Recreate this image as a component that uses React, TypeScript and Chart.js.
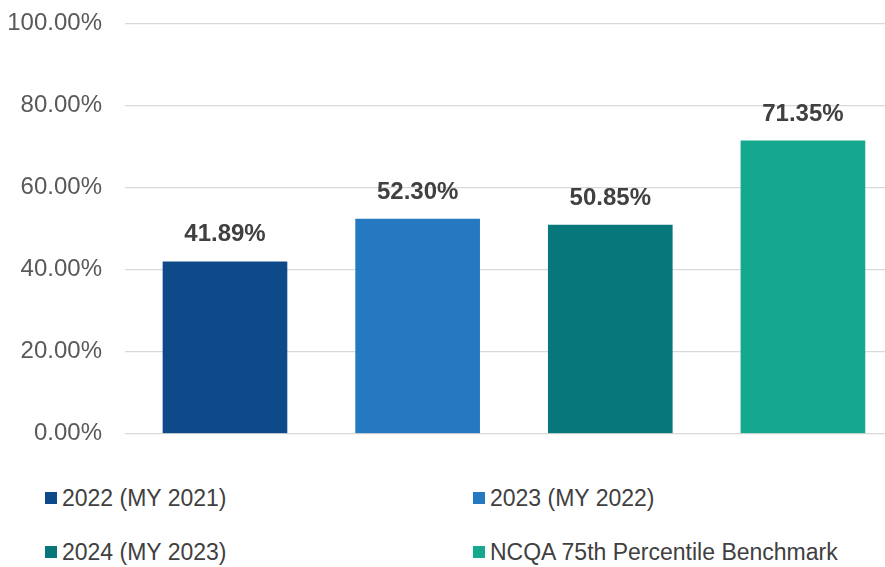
import React, { useEffect, useRef } from "react";
import { Chart, registerables } from "chart.js";

Chart.register(...registerables);

const seriesNames = ["2022 (MY 2021)", "2023 (MY 2022)", "2024 (MY 2023)", "NCQA 75th Percentile Benchmark"];
const seriesValues = [41.89, 52.3, 50.85, 71.35];
const seriesColors = ["#0E4A8A", "#2479C1", "#07777B", "#16A88E"];
const yTicks = [0, 20, 40, 60, 80, 100];

const FONT = "'Liberation Sans', Arial, sans-serif";

const labelPlugin = {
  id: "valueLabels",
  afterDatasetsDraw(chart: any) {
    const ctx = chart.ctx;
    ctx.save();
    ctx.font = `bold 24px ${FONT}`;
    ctx.fillStyle = "#404040";
    ctx.textAlign = "center";
    ctx.textBaseline = "middle";
    chart.data.datasets.forEach((ds: any, i: number) => {
      const meta = chart.getDatasetMeta(i);
      meta.data.forEach((el: any, j: number) => {
        const v = ds.data[j].y;
        ctx.fillText(v.toFixed(2) + "%", el.x, el.y - 27);
      });
    });
    ctx.restore();
  },
};

export default function App() {
  const ref = useRef<HTMLCanvasElement>(null);
  useEffect(() => {
    if (!ref.current) return;
    const chart = new Chart(ref.current, {
      type: "bar",
      data: {
        datasets: seriesNames.map((name, i) => ({
          label: name,
          data: [{ x: i, y: seriesValues[i] }],
          backgroundColor: seriesColors[i],
          borderWidth: 0,
          barThickness: 124,
          grouped: false,
        })),
      },
      options: {
        animation: false,
        responsive: false,
        maintainAspectRatio: false,
        layout: { padding: { top: 0, right: 0, bottom: 0, left: 0 } },
        plugins: { legend: { display: false }, tooltip: { enabled: false } },
        scales: {
          x: {
            type: "linear",
            display: false,
            offset: false,
            min: -0.519,
            max: 3.426,
            grid: { display: false },
          },
          y: {
            min: 0,
            max: 100,
            afterBuildTicks: (axis: any) => {
              axis.ticks = yTicks.map((v) => ({ value: v }));
            },
            afterFit: (axis: any) => {
              axis.width = 125;
            },
            border: { display: false },
            grid: { color: "#D9D9D9", lineWidth: 1.3, drawTicks: false },
            ticks: {
              padding: 23,
              color: "#595959",
              font: { family: FONT, size: 24 },
              callback: (v: any) => Number(v).toFixed(2) + "%",
            },
          },
        },
      },
      plugins: [labelPlugin],
    });
    return () => chart.destroy();
  }, []);

  const legendItem = (i: number, left: number, top: number) => (
    <div
      key={i}
      style={{
        position: "absolute",
        left,
        top,
        height: 28,
        display: "flex",
        alignItems: "center",
        fontFamily: FONT,
        fontSize: 23,
        color: "#404040",
        whiteSpace: "nowrap",
      }}
    >
      <span style={{ display: "inline-block", width: 12, height: 12, background: seriesColors[i], marginRight: 5 }} />
      <span>{seriesNames[i]}</span>
    </div>
  );

  return (
    <div style={{ position: "fixed", left: 0, top: 0, width: 885, height: 567, overflow: "hidden", background: "#fff" }}>
      <canvas ref={ref} width={885} height={485} style={{ position: "absolute", left: 0, top: -14, width: 885, height: 485 }} />
      {legendItem(0, 45, 484)}
      {legendItem(1, 473, 484)}
      {legendItem(2, 45, 538)}
      {legendItem(3, 473, 538)}
    </div>
  );
}
